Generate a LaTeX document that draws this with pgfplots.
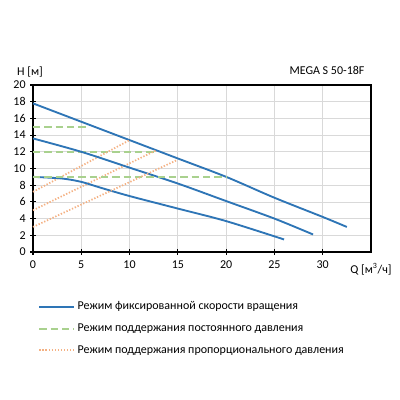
\documentclass[border=0pt]{standalone}
\usepackage{pgfplots}
\pgfplotsset{compat=1.18}
\usepackage{fontspec}
\setmainfont{Carlito}
\definecolor{cblue}{HTML}{2E75B6}
\definecolor{cgreen}{HTML}{A9D18E}
\definecolor{corange}{HTML}{F4B183}
\definecolor{cgrid}{HTML}{D9D9D9}
\begin{document}
\begin{tikzpicture}[x=0.75pt,y=0.75pt]
\useasboundingbox (0,0) rectangle (400,400);
\begin{axis}[
  at={(24.75pt,111pt)}, anchor=origin,
  scale only axis, width=253.5pt, height=125.25pt,
  xmin=0, xmax=35, ymin=0, ymax=20,
  xtick={0,5,...,30}, ytick={0,2,...,20},
  grid=major, major grid style={cgrid, line width=0.6pt},
  axis line style={black, line width=1.3pt},
  tick align=center, xtick pos=bottom, ytick pos=left,
  major tick length=4pt,
  tick style={black, line width=0.8pt},
  ticklabel style={font=\fontsize{9}{10}\selectfont},
  /pgf/number format/assume math mode=true,
  xticklabel style={yshift=-1pt},
  clip=false,
  legend style={at={(0.015,-0.28)}, anchor=north west, draw=none, fill=none,
    font=\fontsize{9}{10}\selectfont, row sep=5pt, inner sep=0pt,
    /tikz/every even column/.append style={column sep=3pt}},
  legend cell align=left,
  legend image code/.code={\draw[#1] (0pt,0pt) -- (26pt,0pt);},
]
\addplot[cblue, line width=1.4pt, smooth] coordinates {(0,17.8)(5,15.6)(10,13.4)(15,11.2)(20,9.0)(25,6.5)(30,4.2)(32.5,3.0)};
\addlegendentry{Режим фиксированной скорости вращения}
\addplot[cgreen, line width=1.5pt, dash pattern=on 5.5pt off 3pt, forget plot] coordinates {(0,15)(5.7,15)};
\addplot[cgreen, line width=1.5pt, dash pattern=on 5.5pt off 3pt, forget plot] coordinates {(0,12)(12.8,12)};
\addplot[corange, line width=1.3pt, dash pattern=on 1pt off 1.3pt, forget plot] coordinates {(0,7.2)(10,13.4)};
\addplot[corange, line width=1.3pt, dash pattern=on 1pt off 1.3pt, forget plot] coordinates {(0,5.0)(12.8,12.2)};
\addplot[cblue, line width=1.4pt, smooth, forget plot] coordinates {(0,13.6)(5,12.0)(10,10.1)(15,8.2)(20,6.1)(25,4.0)(29,2.1)};
\addplot[cblue, line width=1.4pt, smooth, forget plot] coordinates {(0,9.0)(3,8.8)(5,8.4)(7,7.7)(10,6.7)(15,5.2)(20,3.7)(26,1.5)};
\addplot[cgreen, line width=1.5pt, dash pattern=on 5.5pt off 3pt] coordinates {(0,9)(20,9)};
\addlegendentry{Режим поддержания постоянного давления}
\addplot[corange, line width=1.3pt, dash pattern=on 1pt off 1.3pt] coordinates {(0,3.0)(14.9,11.0)};
\addlegendentry{Режим поддержания пропорционального давления}
\end{axis}
\node[font=\fontsize{9}{10}\selectfont] at (30,328) {H [м]};
\node[font=\fontsize{9}{10}\selectfont] at (327,330) {MEGA S 50-18F};
\node[font=\fontsize{9}{10}\selectfont] at (371,131) {Q [м\textsuperscript{3}/ч]};
\end{tikzpicture}
\end{document}
